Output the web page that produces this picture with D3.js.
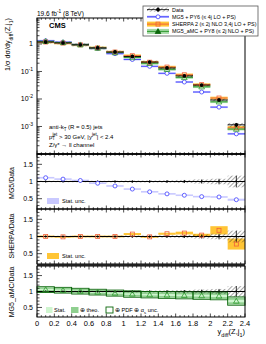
<!DOCTYPE html>
<html>
<head>
<meta charset="utf-8">
<script src="https://cdn.jsdelivr.net/npm/d3@7"></script>
<style>
  body { margin: 0; background: #fff; }
  svg { display: block; font-family: "Liberation Sans", Arial, sans-serif; }
</style>
</head>
<body>
<svg id="chart" width="266" height="344"></svg>
<script>
// bins of y_diff(Z,j1)
const binLo = [0.0, 0.2, 0.4, 0.6, 0.8, 1.0, 1.2, 1.4, 1.6, 1.8, 2.0, 2.2];
const binHi = [0.2, 0.4, 0.6, 0.8, 1.0, 1.2, 1.4, 1.6, 1.8, 2.0, 2.2, 2.4];

// normalized cross section and relative data uncertainty
const dataVal = [1.18, 1.09, 0.93, 0.72, 0.51, 0.35, 0.22, 0.134, 0.069, 0.032, 0.0092, 0.00115];
const dataErr = [0.02, 0.02, 0.02, 0.02, 0.025, 0.03, 0.03, 0.035, 0.045, 0.06, 0.08, 0.17];

// theory / data ratios
const mg5Ratio = [1.11, 1.07, 1.03, 0.95, 0.87, 0.78, 0.70, 0.64, 0.60, 0.56, 0.55, 0.47];
const mg5Stat = [0.01, 0.01, 0.01, 0.01, 0.01, 0.012, 0.012, 0.015, 0.015, 0.02, 0.02, 0.03];
const sherpaRatio = [1.0, 0.99, 1.0, 1.0, 1.0, 1.07, 0.99, 1.08, 1.1, 1.04, 1.18, 0.78];
const sherpaStat = [0.01, 0.01, 0.01, 0.01, 0.015, 0.03, 0.02, 0.03, 0.04, 0.04, 0.12, 0.16];
const amcRatio = [1.06, 1.04, 1.01, 0.98, 0.95, 0.92, 0.90, 0.89, 0.88, 0.87, 0.86, 0.70];
const amcStat = [0.02, 0.02, 0.02, 0.02, 0.02, 0.025, 0.025, 0.03, 0.03, 0.03, 0.035, 0.04];
const amcTheo = [0.07, 0.07, 0.07, 0.07, 0.075, 0.08, 0.08, 0.085, 0.09, 0.095, 0.1, 0.11];
const amcPdf = [0.09, 0.09, 0.09, 0.09, 0.095, 0.1, 0.1, 0.105, 0.11, 0.115, 0.12, 0.13];

// axis ticks
const xTicks = [0, 0.2, 0.4, 0.6, 0.8, 1, 1.2, 1.4, 1.6, 1.8, 2, 2.2, 2.4];
const xTickLabels = ["0", "0.2", "0.4", "0.6", "0.8", "1", "1.2", "1.4", "1.6", "1.8", "2", "2.2", "2.4"];
const ratioTicks = [0.5, 1, 1.5];
const ratioTickLabels = ["0.5", "1", "1.5"];
const logTicks = [1, 0.1, 0.01, 0.001];
const logTickExp = ["", "-1", "-2", "-3"];

const C = {
    mg5: "#3d3dff", mg5Band: "#c9c9ff",
    sherpa: "#f2603a", sherpaBand: "#ffc535",
    amc: "#2f9a2f", amcDark: "#0b660b", amcTheo: "#8fcf8f", amcStat: "#cff5cf"
};

const svg = d3.select("#chart");
const defs = svg.append("defs");
defs.append("pattern")
    .attr("id", "hatch").attr("patternUnits", "userSpaceOnUse")
    .attr("width", 3).attr("height", 3)
    .attr("patternTransform", "rotate(45)")
    .append("line").attr("x1", 0).attr("y1", 0).attr("x2", 0).attr("y2", 3)
    .attr("stroke", "#222").attr("stroke-width", 0.8);

const X0 = 37, X1 = 245;
const x = d3.scaleLinear().domain([0, 2.4]).range([X0, X1]);
const yMain = d3.scaleLog().domain([1e-4, 8.8]).range([154, 18]);
const yR1 = d3.scaleLinear().domain([0.2, 1.8]).range([209, 154]);
const yR2 = d3.scaleLinear().domain([0.2, 1.8]).range([264, 209]);
const yR3 = d3.scaleLinear().domain([0.2, 1.8]).range([317, 266]);

const bins = binLo.map((lo, i) => ({ lo: lo, hi: binHi[i], c: (lo + binHi[i]) / 2, i: i }));

// vertical box between two y pixel values, with a minimum height
function box(g, b, ya, yb, minH) {
    let top = Math.min(ya, yb), h = Math.abs(yb - ya);
    if (h < minH) { top -= (minH - h) / 2; h = minH; }
    return g.append("rect").attr("x", x(b.lo)).attr("width", x(b.hi) - x(b.lo))
        .attr("y", top).attr("height", h);
}
function hline(g, b, yy, color, w) {
    g.append("line").attr("x1", x(b.lo)).attr("x2", x(b.hi)).attr("y1", yy).attr("y2", yy)
        .attr("stroke", color).attr("stroke-width", w);
}
function marker(g, kind, cx, cy, color, fill) {
    if (kind === "circle") {
        g.append("circle").attr("cx", cx).attr("cy", cy).attr("r", 2)
            .attr("fill", fill || "#fff").attr("stroke", color).attr("stroke-width", 0.8);
    } else if (kind === "square") {
        g.append("rect").attr("x", cx - 2).attr("y", cy - 2).attr("width", 4).attr("height", 4)
            .attr("fill", fill || "none").attr("stroke", color).attr("stroke-width", 0.8);
    } else if (kind === "triangle") {
        g.append("path").attr("d", d3.symbol(d3.symbolTriangle, 14)())
            .attr("transform", `translate(${cx},${cy + 0.5})`)
            .attr("fill", fill || "none").attr("stroke", color).attr("stroke-width", 0.8);
    } else if (kind === "dot") {
        g.append("circle").attr("cx", cx).attr("cy", cy).attr("r", 1.9).attr("fill", color);
    }
}

// ---------- top panel ----------
const gTop = svg.append("g");
bins.forEach(b => {
    const v = dataVal[b.i];
    const vs = v * sherpaRatio[b.i], va = v * amcRatio[b.i], vm = v * mg5Ratio[b.i];
    box(gTop, b, yMain(vs * (1 + sherpaStat[b.i])), yMain(vs * (1 - sherpaStat[b.i])), 2.6)
        .attr("fill", C.sherpaBand).attr("opacity", 0.9);
    box(gTop, b, yMain(va * (1 + amcStat[b.i])), yMain(va * (1 - amcStat[b.i])), 2.6)
        .attr("fill", C.amcTheo).attr("opacity", 0.8);
    box(gTop, b, yMain(vm * (1 + mg5Stat[b.i])), yMain(vm * (1 - mg5Stat[b.i])), 2)
        .attr("fill", C.mg5Band);
    box(gTop, b, yMain(v * (1 + dataErr[b.i])), yMain(v * (1 - dataErr[b.i])), 2.8)
        .attr("fill", "url(#hatch)");
    hline(gTop, b, yMain(vm), C.mg5, 0.9);
    hline(gTop, b, yMain(vs), C.sherpa, 0.9);
    hline(gTop, b, yMain(va), C.amc, 0.9);
    hline(gTop, b, yMain(v), "#000", 0.9);
    marker(gTop, "circle", x(b.c), yMain(vm), C.mg5);
    marker(gTop, "square", x(b.c), yMain(vs), C.sherpa);
    marker(gTop, "triangle", x(b.c), yMain(va), C.amc);
    gTop.append("line").attr("x1", x(b.c)).attr("x2", x(b.c))
        .attr("y1", yMain(v * (1 + dataErr[b.i]))).attr("y2", yMain(v * (1 - dataErr[b.i])))
        .attr("stroke", "#000").attr("stroke-width", 0.8);
    marker(gTop, "dot", x(b.c), yMain(v), "#000");
});

// ---------- ratio panels ----------
function ratioBase(g, y) {
    bins.forEach(b => {
        box(g, b, y(1 + dataErr[b.i]), y(1 - dataErr[b.i]), 1.5).attr("fill", "url(#hatch)");
    });
    g.append("line").attr("x1", X0).attr("x2", X1).attr("y1", y(1)).attr("y2", y(1))
        .attr("stroke", "#000").attr("stroke-width", 1);
    bins.forEach(b => {
        g.append("line").attr("x1", x(b.c)).attr("x2", x(b.c))
            .attr("y1", y(1 + dataErr[b.i])).attr("y2", y(1 - dataErr[b.i]))
            .attr("stroke", "#000").attr("stroke-width", 0.8);
        g.append("circle").attr("cx", x(b.c)).attr("cy", y(1)).attr("r", 0.9).attr("fill", "#000");
    });
}

const g1 = svg.append("g");
bins.forEach(b => {
    box(g1, b, yR1(mg5Ratio[b.i] + mg5Stat[b.i]), yR1(mg5Ratio[b.i] - mg5Stat[b.i]), 1.6)
        .attr("fill", C.mg5Band);
});
ratioBase(g1, yR1);
bins.forEach(b => marker(g1, "circle", x(b.c), yR1(mg5Ratio[b.i]), C.mg5));

const g2 = svg.append("g");
bins.forEach(b => {
    box(g2, b, yR2(sherpaRatio[b.i] + sherpaStat[b.i]), yR2(sherpaRatio[b.i] - sherpaStat[b.i]), 1.8)
        .attr("fill", C.sherpaBand);
});
ratioBase(g2, yR2);
bins.forEach(b => marker(g2, "square", x(b.c), yR2(sherpaRatio[b.i]), C.sherpa));

const g3 = svg.append("g");
bins.forEach(b => {
    box(g3, b, yR3(amcRatio[b.i] + amcTheo[b.i]), yR3(amcRatio[b.i] - amcTheo[b.i]), 2)
        .attr("fill", C.amcTheo);
    box(g3, b, yR3(amcRatio[b.i] + amcStat[b.i]), yR3(amcRatio[b.i] - amcStat[b.i]), 1.5)
        .attr("fill", C.amcStat);
});
ratioBase(g3, yR3);
bins.forEach(b => {
    box(g3, b, yR3(amcRatio[b.i] + amcPdf[b.i]), yR3(amcRatio[b.i] - amcPdf[b.i]), 2)
        .attr("fill", "none").attr("stroke", C.amcDark).attr("stroke-width", 0.9);
    marker(g3, "triangle", x(b.c), yR3(amcRatio[b.i]), C.amc);
});

// ---------- frames and ticks ----------
const axes = svg.append("g").attr("stroke", "#000");
const panelRanges = [[18, 154], [154, 209], [209, 264], [266, 317]];
panelRanges.forEach(([t, btm]) => {
    axes.append("rect").attr("x", X0).attr("y", t).attr("width", X1 - X0).attr("height", btm - t)
        .attr("fill", "none").attr("stroke-width", 1);
    d3.range(0, 2.4001, 0.05).forEach(v => {
        const major = Math.abs(v / 0.2 - Math.round(v / 0.2)) < 1e-6;
        const len = major ? 3.5 : 1.8;
        axes.append("line").attr("x1", x(v)).attr("x2", x(v)).attr("y1", btm).attr("y2", btm - len).attr("stroke-width", 0.7);
        axes.append("line").attr("x1", x(v)).attr("x2", x(v)).attr("y1", t).attr("y2", t + len).attr("stroke-width", 0.7);
    });
});
axes.append("line").attr("x1", X0).attr("x2", X1).attr("y1", 154).attr("y2", 154).attr("stroke-width", 1.6);
axes.append("line").attr("x1", X0).attr("x2", X1).attr("y1", 265).attr("y2", 265).attr("stroke-width", 1.4);

// log y ticks, top panel
const labels = svg.append("g").attr("fill", "#000");
for (let e = -4; e <= 0; e++) {
    for (let m = 1; m <= 9; m++) {
        const v = m * Math.pow(10, e);
        if (v < 1e-4 || v > 8.8) continue;
        const len = m === 1 ? 5 : 2.5;
        axes.append("line").attr("x1", X0).attr("x2", X0 + len)
            .attr("y1", yMain(v)).attr("y2", yMain(v)).attr("stroke-width", 0.7);
    }
}
logTicks.forEach((v, i) => {
    const t = labels.append("text").attr("x", X0 - 4).attr("y", yMain(v) + 2.5)
        .attr("text-anchor", "end").attr("font-size", 7);
    if (logTickExp[i] === "") { t.text("1"); }
    else {
        t.append("tspan").text("10");
        t.append("tspan").attr("dy", -3).attr("font-size", 5).text(logTickExp[i]);
    }
});

// ratio y ticks
[yR1, yR2, yR3].forEach(y => {
    d3.range(0.3, 1.75, 0.1).forEach(v => {
        const major = Math.abs(v * 2 - Math.round(v * 2)) < 1e-6;
        axes.append("line").attr("x1", X0).attr("x2", X0 + (major ? 5 : 2.5))
            .attr("y1", y(v)).attr("y2", y(v)).attr("stroke-width", 0.7);
    });
    ratioTicks.forEach((v, i) => {
        labels.append("text").attr("x", X0 - 4).attr("y", y(v) + 2.5)
            .attr("text-anchor", "end").attr("font-size", 7).text(ratioTickLabels[i]);
    });
});

// x tick labels
xTicks.forEach((v, i) => {
    labels.append("text").attr("x", x(v)).attr("y", 325.5).attr("text-anchor", "middle")
        .attr("font-size", 7.5).text(xTickLabels[i]);
});

// x title
const xt = labels.append("text").attr("x", X1).attr("y", 334).attr("text-anchor", "end").attr("font-size", 7.5);
xt.append("tspan").text("y");
xt.append("tspan").attr("dy", 2.5).attr("font-size", 5.5).text("diff");
xt.append("tspan").attr("dy", -2.5).text("(Z,j");
xt.append("tspan").attr("dy", 2.5).attr("font-size", 5.5).text("1");
xt.append("tspan").attr("dy", -2.5).text(")");

// y titles
const yt = labels.append("text").attr("transform", "translate(10,18) rotate(-90)")
    .attr("text-anchor", "end").attr("font-size", 7.2);
yt.append("tspan").text("1/σ dσ/dy");
yt.append("tspan").attr("dy", 2.5).attr("font-size", 5.2).text("diff");
yt.append("tspan").attr("dy", -2.5).text("(Z,j");
yt.append("tspan").attr("dy", 2.5).attr("font-size", 5.2).text("1");
yt.append("tspan").attr("dy", -2.5).text(")");

[["MG5/Data", 183], ["SHERPA/Data", 236], ["MG5_aMC/Data", 292]].forEach(([t, cy]) => {
    labels.append("text").attr("transform", `translate(14,${cy}) rotate(-90)`)
        .attr("text-anchor", "middle").attr("font-size", 7).text(t);
});

// header texts
labels.append("text").attr("x", X0).attr("y", 15.5).attr("font-size", 6.5)
    .call(t => {
        t.append("tspan").text("19.6 fb");
        t.append("tspan").attr("dy", -2.5).attr("font-size", 4.8).text("-1");
        t.append("tspan").attr("dy", 2.5).text(" (8 TeV)");
    });
labels.append("text").attr("x", 49).attr("y", 28).attr("font-size", 7.5)
    .attr("font-weight", "bold").text("CMS");

// selection annotations
const ann = labels.append("g").attr("font-size", 6);
ann.append("text").attr("x", 49).attr("y", 129).call(t => {
    t.append("tspan").text("anti-k");
    t.append("tspan").attr("dy", 1.8).attr("font-size", 4.5).text("T");
    t.append("tspan").attr("dy", -1.8).text(" (R = 0.5) jets");
});
ann.append("text").attr("x", 49).attr("y", 138.5).call(t => {
    t.append("tspan").text("p");
    t.append("tspan").attr("dy", 1.8).attr("font-size", 4.5).text("T");
    t.append("tspan").attr("dy", -4.5).attr("font-size", 4.5).attr("dx", -2.5).text("jet");
    t.append("tspan").attr("dy", 2.7).text(" > 30 GeV, |y");
    t.append("tspan").attr("dy", -2.7).attr("font-size", 4.5).text("jet");
    t.append("tspan").attr("dy", 2.7).text("| < 2.4");
});
ann.append("text").attr("x", 49).attr("y", 147).text("Z/γ* → ll channel");

// ---------- legends ----------
const leg = svg.append("g");
leg.append("rect").attr("x", 143).attr("y", 6).attr("width", 115).attr("height", 30)
    .attr("fill", "#fff").attr("stroke", "#555").attr("stroke-width", 0.8);
const legRows = [
    { label: "Data", kind: "data", cy: 9.6 },
    { label: "MG5 + PY6 (≤ 4j LO + PS)", kind: "mg5", cy: 16.8 },
    { label: "SHERPA 2 (≤ 2j NLO 3,4j LO + PS)", kind: "sherpa", cy: 24.1 },
    { label: "MG5_aMC + PY8 (≤ 2j NLO + PS)", kind: "amc", cy: 31.4 }
];
legRows.forEach(r => {
    const sx0 = 147, sx1 = 169, sc = (sx0 + sx1) / 2;
    if (r.kind === "data") {
        leg.append("rect").attr("x", sx0).attr("y", r.cy - 2).attr("width", sx1 - sx0).attr("height", 4).attr("fill", "url(#hatch)");
        leg.append("line").attr("x1", sx0).attr("x2", sx1).attr("y1", r.cy).attr("y2", r.cy).attr("stroke", "#000").attr("stroke-width", 0.8);
        leg.append("line").attr("x1", sc).attr("x2", sc).attr("y1", r.cy - 2.5).attr("y2", r.cy + 2.5).attr("stroke", "#000").attr("stroke-width", 0.8);
        marker(leg, "dot", sc, r.cy, "#000");
    } else if (r.kind === "mg5") {
        leg.append("rect").attr("x", sx0).attr("y", r.cy - 1.2).attr("width", sx1 - sx0).attr("height", 2.4).attr("fill", C.mg5Band);
        leg.append("line").attr("x1", sx0).attr("x2", sx1).attr("y1", r.cy).attr("y2", r.cy).attr("stroke", C.mg5).attr("stroke-width", 1);
        marker(leg, "circle", sc, r.cy, C.mg5);
    } else if (r.kind === "sherpa") {
        leg.append("rect").attr("x", sx0).attr("y", r.cy - 2.5).attr("width", sx1 - sx0).attr("height", 5).attr("fill", C.sherpaBand);
        leg.append("line").attr("x1", sx0).attr("x2", sx1).attr("y1", r.cy).attr("y2", r.cy).attr("stroke", C.sherpa).attr("stroke-width", 1);
        marker(leg, "square", sc, r.cy, C.sherpa);
    } else {
        leg.append("rect").attr("x", sx0).attr("y", r.cy - 2.5).attr("width", sx1 - sx0).attr("height", 5).attr("fill", C.amcTheo).attr("opacity", 0.8);
        leg.append("line").attr("x1", sx0).attr("x2", sx1).attr("y1", r.cy).attr("y2", r.cy).attr("stroke", C.amc).attr("stroke-width", 1);
        marker(leg, "triangle", sc, r.cy, C.amcDark, C.amcDark);
    }
    leg.append("text").attr("x", 172).attr("y", r.cy + 2).attr("font-size", 5.4).text(r.label);
});

// ratio panel legends
leg.append("rect").attr("x", 47).attr("y", 198).attr("width", 12).attr("height", 6).attr("fill", C.mg5Band);
leg.append("text").attr("x", 62).attr("y", 203.3).attr("font-size", 5.6).text("Stat. unc.");
leg.append("rect").attr("x", 47).attr("y", 253).attr("width", 12).attr("height", 6).attr("fill", C.sherpaBand);
leg.append("text").attr("x", 62).attr("y", 258.3).attr("font-size", 5.6).text("Stat. unc.");
leg.append("rect").attr("x", 46).attr("y", 307).attr("width", 6.5).attr("height", 6).attr("fill", C.amcStat);
leg.append("text").attr("x", 54).attr("y", 312.3).attr("font-size", 5.6).text("Stat.");
leg.append("rect").attr("x", 71).attr("y", 307).attr("width", 7.5).attr("height", 6).attr("fill", C.amcTheo);
leg.append("text").attr("x", 80).attr("y", 312.3).attr("font-size", 5.6).text("⊕ theo.");
leg.append("rect").attr("x", 106).attr("y", 307).attr("width", 7).attr("height", 6)
    .attr("fill", "#fff").attr("stroke", C.amcDark).attr("stroke-width", 0.9);
leg.append("text").attr("x", 115).attr("y", 312.3).attr("font-size", 5.6).call(t => {
    t.append("tspan").text("⊕ PDF ⊕ α");
    t.append("tspan").attr("dy", 1.5).attr("font-size", 4.2).text("s");
    t.append("tspan").attr("dy", -1.5).text(" unc.");
});
</script>
</body>
</html>
